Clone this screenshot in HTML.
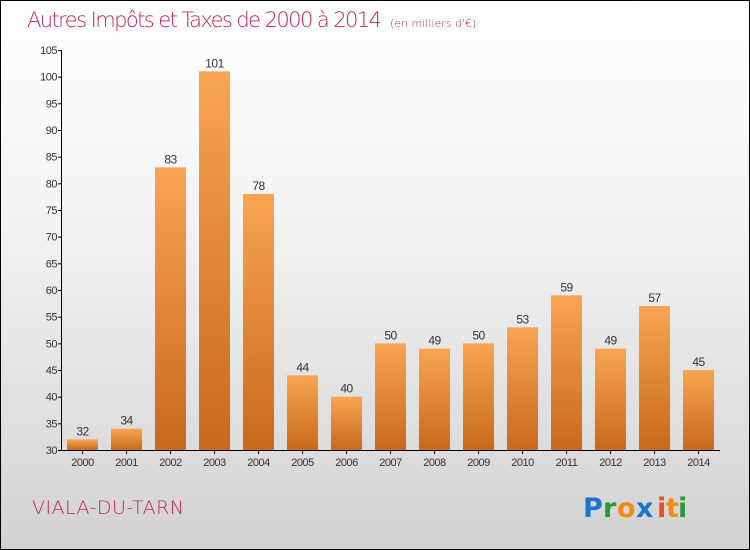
<!DOCTYPE html>
<html><head><meta charset="utf-8"><style>
html,body{margin:0;padding:0}
body{width:750px;height:550px;overflow:hidden;font-family:"Liberation Sans",sans-serif}
#wrap{position:relative;width:748px;height:548px;border:1px solid #000;background:linear-gradient(#fff 0%,#f3f3f3 40%,#d2d2d2 100%)}
.thin{font-family:"DejaVu Sans ExtraLight","DejaVu Sans",sans-serif;font-weight:200}
</style></head><body>
<div id="wrap">
<svg width="748" height="548" viewBox="1 1 748 548" style="position:absolute;left:0;top:0">
<defs><linearGradient id="bg" x1="0" y1="0" x2="0" y2="1"><stop offset="0" stop-color="#f8a552"/><stop offset="1" stop-color="#c8691c"/></linearGradient></defs>
<text class="thin" x="27" y="27" font-size="21" fill="#c2255b" textLength="355">Autres Impôts et Taxes de 2000 à 2014</text>
<text class="thin" x="390" y="27" font-size="11" fill="#c2255b">(en milliers d'€)</text>
<g id="axes"></g><g id="bars"></g>
<text class="thin" x="32" y="514" font-size="19" fill="#c2255b" textLength="152">VIALA-DU-TARN</text>
<g font-size="27" font-weight="bold" style="font-family:'DejaVu Sans',sans-serif">
<text x="583" y="517" fill="#1b74c8">P</text><text x="603" y="517" fill="#2a9a3a">r</text><text x="617" y="517" fill="#f28a14">o</text><text x="636" y="517" fill="#1b74c8">x</text><text x="657" y="517" fill="#e8501a">i</text><text x="666" y="517" fill="#f28a14">t</text><text x="678" y="517" fill="#2a9a3a">i</text></g>
</svg></div>
<script>
const years=["2000","2001","2002","2003","2004","2005","2006","2007","2008","2009","2010","2011","2012","2013","2014"];
const values=[32,34,83,101,78,44,40,50,49,50,53,59,49,57,45];
const ticks=[30,35,40,45,50,55,60,65,70,75,80,85,90,95,100,105];
const NS="http://www.w3.org/2000/svg";
const y=v=>450-(v-30)*400/75;
const x=i=>82.5+i*44;
function mk(t,a,p,txt){const e=document.createElementNS(NS,t);for(const k in a)e.setAttribute(k,a[k]);if(txt!=null)e.textContent=txt;p.appendChild(e);return e;}
const ax=document.getElementById('axes'),bs=document.getElementById('bars');
const yl=mk('line',{x1:61.5,y1:50,x2:61.5,y2:450,stroke:'#000'},ax);


const xl=mk('line',{x1:61.5,y1:450.5,x2:720,y2:450.5,stroke:'#000'},ax);


ticks.forEach(t=>{
 mk('line',{x1:58,x2:62,y1:y(t)+.5,y2:y(t)+.5,stroke:'#000'},ax);
 const l=mk('text',{x:57,y:y(t)+4,'font-size':11,'text-anchor':'end',fill:'#333','letter-spacing':'-0.5'},ax,t);
 
 
});
values.forEach((v,i)=>{
 const r=mk('rect',{x:x(i)-15.5,y:y(v),width:31,height:450-y(v),fill:'url(#bg)'},bs);
 
 
 const vl=mk('text',{x:x(i),y:y(v)-4,'font-size':12,'text-anchor':'middle',fill:'#333','letter-spacing':'-0.5'},bs,v);
 
 
 mk('line',{x1:x(i),x2:x(i),y1:450,y2:454,stroke:'#000'},ax);
 const xlb=mk('text',{x:x(i),y:466,'font-size':11,'text-anchor':'middle',fill:'#333','letter-spacing':'-0.5'},ax,years[i]);
 
 
});
</script>
</body></html>
